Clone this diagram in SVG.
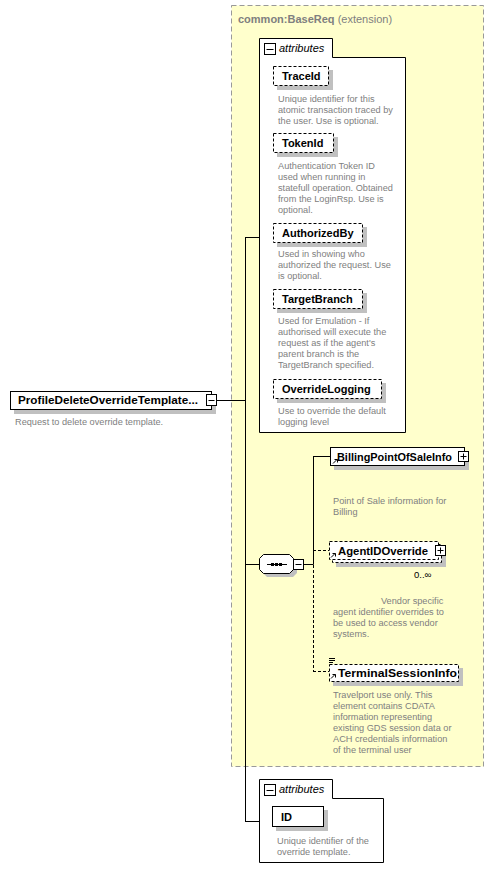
<svg xmlns="http://www.w3.org/2000/svg" width="494" height="880" viewBox="0 0 494 880">
<style>
.lbl{font-family:"Liberation Sans","DejaVu Sans",sans-serif;font-size:11px;font-weight:bold;fill:#000}
.desc{font-family:"Liberation Sans","DejaVu Sans",sans-serif;font-size:9.2px;fill:#808080}
.attr{font-family:"Liberation Sans","DejaVu Sans",sans-serif;font-size:11px;font-style:italic;fill:#000}
.box{fill:#fff;stroke:#000;stroke-width:1}
.dbox{fill:#fff;stroke:#000;stroke-width:1;stroke-dasharray:3,2}
.shd{fill:#c0c0c0}
.ln{stroke:#000;stroke-width:1;fill:none}
.dln{stroke:#000;stroke-width:1;fill:none;stroke-dasharray:3,2}
.ic{fill:#fff;stroke:#000;stroke-width:1}
</style>
<rect width="494" height="880" fill="#fff"/>

<g id="baseReq">
<rect x="231.5" y="5.5" width="252" height="761" fill="#ffffcc" stroke="#999" stroke-dasharray="5,3"/>
<text x="238" y="23" font-family="Liberation Sans, DejaVu Sans, sans-serif" font-size="11" fill="#808080"><tspan font-weight="bold">common:BaseReq</tspan> (extension)</text>
</g>

<g id="connectors">
<path class="ln" d="M217,400.5H245.5M245.5,237V821M245,237.5H259M245,564.5H259M245,821.5H259"/>
<path class="ln" d="M304,564.5H313.5M313.5,456V564.5M313,456.5H330"/>
<path class="dln" d="M313.5,565V671.5M313,550.5H329M313,671.5H329"/>
</g>

<g id="root">
<rect class="shd" x="14" y="395" width="202" height="19"/>
<rect class="box" x="10.5" y="391.5" width="201" height="18"/>
<text class="lbl" x="18" y="404" textLength="180" lengthAdjust="spacingAndGlyphs">ProfileDeleteOverrideTemplate...</text>
<rect class="ic" x="206.5" y="394.5" width="10" height="11"/>
<path class="ln" d="M208.5,400.5H214.5"/>
<text class="desc" x="15" y="425">Request to delete override template.</text>
</g>

<g id="attributes1">
<path class="box" d="M259.5,38.5H332.5V57.5H405.5V432.5H259.5Z"/>
<rect class="ic" x="264.5" y="43.5" width="11" height="11"/>
<path class="ln" d="M266.5,49.5H273.5"/>
<text class="attr" x="279" y="52">attributes</text>
</g>

<g id="TraceId">
<rect class="shd" x="277" y="70" width="56" height="20"/>
<rect class="dbox" x="273.5" y="66.5" width="55" height="19"/>
<text class="lbl" x="282" y="80">TraceId</text>
<text class="desc" x="278" y="102">Unique identifier for this</text>
<text class="desc" x="278" y="113">atomic transaction traced by</text>
<text class="desc" x="278" y="124">the user. Use is optional.</text>
</g>

<g id="TokenId">
<rect class="shd" x="277" y="137" width="61" height="20"/>
<rect class="dbox" x="273.5" y="133.5" width="60" height="19"/>
<text class="lbl" x="282" y="147">TokenId</text>
<text class="desc" x="278" y="169">Authentication Token ID</text>
<text class="desc" x="278" y="180">used when running in</text>
<text class="desc" x="278" y="191">statefull operation. Obtained</text>
<text class="desc" x="278" y="202">from the LoginRsp. Use is</text>
<text class="desc" x="278" y="213">optional.</text>
</g>

<g id="AuthorizedBy">
<rect class="shd" x="277" y="227" width="90" height="20"/>
<rect class="dbox" x="273.5" y="223.5" width="89" height="19"/>
<text class="lbl" x="282" y="237">AuthorizedBy</text>
<text class="desc" x="278" y="257">Used in showing who</text>
<text class="desc" x="278" y="268">authorized the request. Use</text>
<text class="desc" x="278" y="279">is optional.</text>
</g>

<g id="TargetBranch">
<rect class="shd" x="277" y="293" width="90" height="20"/>
<rect class="dbox" x="273.5" y="289.5" width="89" height="19"/>
<text class="lbl" x="282" y="303">TargetBranch</text>
<text class="desc" x="278" y="324">Used for Emulation - If</text>
<text class="desc" x="278" y="335">authorised will execute the</text>
<text class="desc" x="278" y="346">request as if the agent's</text>
<text class="desc" x="278" y="357">parent branch is the</text>
<text class="desc" x="278" y="368">TargetBranch specified.</text>
</g>

<g id="OverrideLogging">
<rect class="shd" x="277" y="383" width="109" height="20"/>
<rect class="dbox" x="273.5" y="379.5" width="108" height="19"/>
<text class="lbl" x="282" y="393">OverrideLogging</text>
<text class="desc" x="278" y="414">Use to override the default</text>
<text class="desc" x="278" y="425">logging level</text>
</g>

<g id="sequence">
<path class="shd" d="M267,558H293L297,562V573L293,577H267L263,573V562Z"/>
<path fill="#fff" stroke="#000" d="M263.5,554.5H289.5L293.5,558.5V569.5L289.5,573.5H263.5L259.5,569.5V558.5Z"/>
<path class="ln" d="M267,564.5H287"/>
<rect x="271" y="563" width="3" height="3" fill="#000"/>
<rect x="275" y="563" width="3" height="3" fill="#000"/>
<rect x="279" y="563" width="3" height="3" fill="#000"/>
<rect class="ic" x="293.5" y="559.5" width="10" height="10"/>
<path class="ln" d="M295.5,564.5H301.5"/>
</g>

<g id="BillingPointOfSaleInfo">
<rect class="shd" x="334" y="451" width="135" height="19"/>
<rect class="box" x="330.5" y="447.5" width="134" height="18"/>
<path class="ln" d="M333,463.5L337,459.5M334.5,459.5H337.5V462.5"/>
<text class="lbl" x="337" y="461" textLength="115" lengthAdjust="spacingAndGlyphs">BillingPointOfSaleInfo</text>
<rect class="ic" x="458.5" y="451.5" width="10" height="10"/>
<path class="ln" d="M460.5,456.5H466.5M463.5,453.5V459.5"/>
<text class="desc" x="333" y="504">Point of Sale information for</text>
<text class="desc" x="333" y="515">Billing</text>
</g>

<g id="AgentIDOverride">
<rect class="shd" x="336" y="548" width="110" height="19"/>
<rect class="dbox" x="332.5" y="544.5" width="109" height="18"/>
<rect class="dbox" x="329.5" y="541.5" width="109" height="18"/>
<path class="ln" d="M331,557.5L335,553.5M332.5,553.5H335.5V556.5"/>
<text class="lbl" x="338" y="555" textLength="90" lengthAdjust="spacingAndGlyphs">AgentIDOverride</text>
<rect class="ic" x="435.5" y="545.5" width="10" height="10"/>
<path class="ln" d="M437.5,550.5H443.5M440.5,547.5V553.5"/>
<text x="414" y="578" font-family="Liberation Sans, DejaVu Sans, sans-serif" font-size="9.5" fill="#000">0..∞</text>
<text class="desc" x="381" y="604">Vendor specific</text>
<text class="desc" x="333" y="615">agent identifier overrides to</text>
<text class="desc" x="333" y="626">be used to access vendor</text>
<text class="desc" x="333" y="637">systems.</text>
</g>

<g id="TerminalSessionInfo">
<rect class="shd" x="333" y="668" width="130" height="18"/>
<rect class="dbox" x="329.5" y="664.5" width="129" height="17"/>
<path class="ln" d="M329,658.5H335M329,660.5H335M329,662.5H333"/>
<path class="ln" d="M331,678.5L335,674.5M332.5,674.5H335.5V677.5"/>
<text class="lbl" x="338" y="677" textLength="119" lengthAdjust="spacingAndGlyphs">TerminalSessionInfo</text>
<text class="desc" x="333" y="698">Travelport use only. This</text>
<text class="desc" x="333" y="709">element contains CDATA</text>
<text class="desc" x="333" y="720">information representing</text>
<text class="desc" x="333" y="731">existing GDS session data or</text>
<text class="desc" x="333" y="742">ACH credentials information</text>
<text class="desc" x="333" y="753">of the terminal user</text>
</g>

<g id="attributes2">
<path class="box" d="M259.5,779.5H332.5V798.5H383.5V862.5H259.5Z"/>
<rect class="ic" x="264.5" y="784.5" width="11" height="11"/>
<path class="ln" d="M266.5,790.5H273.5"/>
<text class="attr" x="279" y="793">attributes</text>
</g>

<g id="ID">
<rect class="shd" x="276" y="810" width="52" height="21"/>
<rect class="box" x="272.5" y="806.5" width="51" height="20"/>
<text class="lbl" x="281" y="821">ID</text>
<text class="desc" x="277" y="844">Unique identifier of the</text>
<text class="desc" x="277" y="855">override template.</text>
</g>
</svg>
